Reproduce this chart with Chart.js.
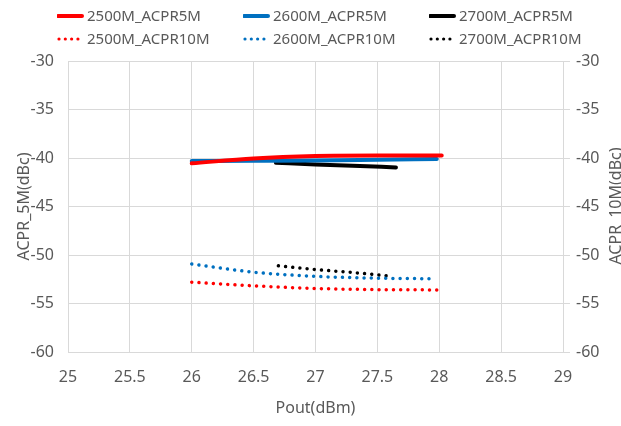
<!DOCTYPE html>
<html>
<head>
<meta charset="utf-8">
<script src="https://cdn.jsdelivr.net/npm/chart.js@4/dist/chart.umd.min.js"></script>
<style>
  html, body { margin: 0; padding: 0; background: #fff; }
  #wrap { position: relative; width: 621px; height: 426px; }
  #legend { position: absolute; left: 0; top: 0; width: 621px; height: 56px;
            font-family: "Noto Sans", sans-serif; font-size: 15px; color: #595959; }
  .item { position: absolute; height: 20px; line-height: 20px; white-space: nowrap; }
  .item svg { position: absolute; left: 0; top: 0; }
  .item span { position: absolute; left: 30px; top: -1px; }
</style>
</head>
<body>
<div id="wrap">
  <canvas id="c" width="621" height="426"></canvas>
  <div id="legend"></div>
</div>
<script>
// valores (Pout em dBm, ACPR em dBc)
const xTicks = [25, 25.5, 26, 26.5, 27, 27.5, 28, 28.5, 29];
const yTicks = [-30, -35, -40, -45, -50, -55, -60];

const pout2500_5M = [26, 26.5, 27, 27.5, 28.02];
const acpr2500_5M = [-40.55, -40.05, -39.8, -39.75, -39.75];
const pout2600_5M = [26, 26.5, 27, 27.5, 27.98];
const acpr2600_5M = [-40.32, -40.29, -40.25, -40.18, -40.11];
const pout2700_5M = [26.68, 27, 27.3, 27.65];
const acpr2700_5M = [-40.49, -40.66, -40.8, -40.97];

const pout2500_10M = [26, 26.5, 27, 27.5, 28];
const acpr2500_10M = [-52.8, -53.18, -53.45, -53.57, -53.6];
const pout2600_10M = [26, 26.5, 27, 27.5, 27.97];
const acpr2600_10M = [-50.92, -51.77, -52.2, -52.39, -52.45];
const pout2700_10M = [26.7, 27, 27.3, 27.62];
const acpr2700_10M = [-51.12, -51.5, -51.8, -52.2];

const labels = ['2500M_ACPR5M', '2600M_ACPR5M', '2700M_ACPR5M',
                '2500M_ACPR10M', '2600M_ACPR10M', '2700M_ACPR10M'];
const colors = ['#ff0000', '#0070c0', '#000000'];

const textColor = '#595959';
const gridColor = '#d9d9d9';
const fontFamily = '"Noto Sans", sans-serif';

function pts(xs, ys) {
    return xs.map((x, i) => ({ x: x, y: ys[i] }));
}

function solid(label, xs, ys, color) {
    return {
        label: label, data: pts(xs, ys), yAxisID: 'y',
        borderColor: color, backgroundColor: color,
        borderWidth: 4, pointRadius: 0, borderCapStyle: 'round',
        cubicInterpolationMode: 'monotone', tension: 0.4
    };
}

function dotted(label, xs, ys, color) {
    return {
        label: label, data: pts(xs, ys), yAxisID: 'y2',
        borderColor: color, backgroundColor: color,
        borderWidth: 3.5, pointRadius: 0, borderCapStyle: 'round',
        borderDash: [0.01, 7.2],
        cubicInterpolationMode: 'monotone', tension: 0.4
    };
}

// legenda em HTML, 3 colunas x 2 linhas
const legend = document.getElementById('legend');
const colX = [57, 243, 429];
const rowY = [6, 29];
labels.forEach((text, i) => {
    const col = i % 3, row = Math.floor(i / 3);
    const div = document.createElement('div');
    div.className = 'item';
    div.style.left = colX[col] + 'px';
    div.style.top = rowY[row] + 'px';
    const dash = row === 1 ? 'stroke-dasharray="0.01 6.3"' : '';
    const w = row === 1 ? 3.2 : 4;
    div.innerHTML = '<svg width="30" height="20"><line x1="' + (row === 1 ? 2 : 1) + '" y1="10" x2="' + (row === 1 ? 22 : 25) +
        '" y2="10" stroke="' + colors[col] + '" stroke-width="' + w + '" stroke-linecap="round" ' + dash + '/></svg>' +
        '<span>' + text + '</span>';
    legend.appendChild(div);
});

// título do eixo direito lido de baixo para cima
const rightTitle = {
    id: 'rightTitle',
    afterDraw(chart) {
        const ctx = chart.ctx;
        ctx.save();
        ctx.translate(616, 206);
        ctx.rotate(-Math.PI / 2);
        ctx.font = '16px ' + fontFamily;
        ctx.fillStyle = textColor;
        ctx.textAlign = 'center';
        ctx.textBaseline = 'middle';
        ctx.fillText('ACPR_10M(dBc)', 0, 0);
        ctx.restore();
    }
};

new Chart(document.getElementById('c'), {
    type: 'line',
    data: {
        datasets: [
            solid(labels[0], pout2500_5M, acpr2500_5M, colors[0]),
            solid(labels[1], pout2600_5M, acpr2600_5M, colors[1]),
            solid(labels[2], pout2700_5M, acpr2700_5M, colors[2]),
            dotted(labels[3], pout2500_10M, acpr2500_10M, colors[0]),
            dotted(labels[4], pout2600_10M, acpr2600_10M, colors[1]),
            dotted(labels[5], pout2700_10M, acpr2700_10M, colors[2])
        ]
    },
    options: {
        responsive: false,
        animation: false,
        layout: { padding: { top: 61, left: 0, right: 0, bottom: 0 } },
        plugins: {
            legend: { display: false },
            tooltip: { enabled: false }
        },
        scales: {
            x: {
                type: 'linear',
                min: xTicks[0], max: xTicks[xTicks.length - 1],
                afterBuildTicks: s => { s.ticks = xTicks.map(v => ({ value: v })); },
                afterFit: s => { s.height = 74; },
                grid: { color: gridColor, drawTicks: false },
                border: { color: gridColor },
                ticks: { color: textColor, padding: 16, maxRotation: 0,
                         callback: v => String(v),
                         font: { family: fontFamily, size: 16 } },
                title: { display: true, text: 'Pout(dBm)', color: textColor,
                         padding: { top: 0, bottom: 8 },
                         font: { family: fontFamily, size: 16 } }
            },
            y: {
                position: 'left',
                min: -60, max: -30,
                afterBuildTicks: s => { s.ticks = yTicks.map(v => ({ value: v })); },
                afterFit: s => { s.width = 68; },
                grid: { color: gridColor, drawTicks: false },
                border: { color: gridColor },
                ticks: { color: textColor, padding: 14,
                         callback: v => String(v),
                         font: { family: fontFamily, size: 16 } },
                title: { display: true, text: 'ACPR_5M(dBc)', color: textColor,
                         padding: { top: 15, bottom: 0 },
                         font: { family: fontFamily, size: 16 } }
            },
            y2: {
                position: 'right',
                min: -60, max: -30,
                afterBuildTicks: s => { s.ticks = yTicks.map(v => ({ value: v })); },
                afterFit: s => { s.width = 58; },
                grid: { color: gridColor, drawOnChartArea: false, drawTicks: true, tickLength: 7 },
                border: { color: gridColor },
                ticks: { color: textColor, padding: 6,
                         callback: v => String(v),
                         font: { family: fontFamily, size: 16 } }
            }
        }
    },
    plugins: [rightTitle]
});
</script>
</body>
</html>
